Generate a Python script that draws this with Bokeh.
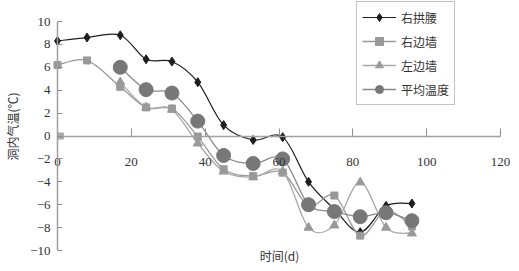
import math
from bokeh.plotting import figure
from bokeh.models import (FixedTicker, Label, Legend, LegendItem, ColumnDataSource)
from bokeh.embed import file_html
from bokeh.resources import INLINE

nan = float("nan")
days = [0, 8, 17, 24, 31, 38, 45, 53, 61, 68, 75, 82, 89, 96]
right_arch = [8.3, 8.6, 8.8, 6.7, 6.5, 4.7, 0.95, -0.35, -0.1, -4.0, -6.4, -8.4, -6.1, -5.9]
right_wall = [6.2, 6.6, 4.3, 2.5, 2.4, -0.05, -2.9, -3.5, -3.2, -6.1, -5.2, -8.7, -6.5, -7.9]
left_wall = [nan, nan, 4.7, 2.5, 2.3, -0.64, -3.1, -3.6, -3.1, -8.0, -7.8, -4.05, -8.0, -8.5]
average = [nan, nan, 6.0, 4.05, 3.75, 1.3, -1.7, -2.4, -2.0, -6.0, -6.6, -7.05, -6.7, -7.4]
extra_x = [0.8]
extra_y = [0.0]
names = ["右拱腰", "右边墙", "左边墙", "平均温度"]
x_ticks = [0, 20, 40, 60, 80, 100, 120]
y_ticks = [-10, -8, -6, -4, -2, 0, 2, 4, 6, 8, 10]
y_tick_labels = ["−10", "−8", "−6", "−4", "−2", "0", "2", "4", "6", "8", "10"]
x_title = "时间(d)"
y_title = "洞内气温(℃)"

serif = "Liberation Serif"
cjk = "Noto Sans CJK SC"

# frame covers the whole canvas; axes are pinned at x=0 / y=0
W, H = 519, 271
xpx = (500 - 57) / 120.0
ypx = (250 - 21) / 20.0
p = figure(width=W, height=H,
           x_range=(-57 / xpx, 120 + (W - 500) / xpx),
           y_range=(-10 - (H - 250) / ypx, 10 + 21 / ypx),
           output_backend="svg", toolbar_location=None,
           min_border_left=0, min_border_right=0, min_border_top=0, min_border_bottom=0)
p.background_fill_color = "white"
p.border_fill_color = "white"
p.outline_line_color = None
p.xgrid.visible = False
p.ygrid.visible = False

# axes
p.xaxis.fixed_location = 0
p.xaxis.bounds = (0, 120)
p.xaxis.ticker = FixedTicker(ticks=x_ticks)
p.xaxis.minor_tick_line_color = None
p.xaxis.major_tick_in = 8
p.xaxis.major_tick_out = 0
p.xaxis.major_label_standoff = 22
p.xaxis.axis_line_color = "#a0a0a0"
p.xaxis.axis_line_width = 1.5
p.xaxis.major_tick_line_color = "#909090"
p.xaxis.major_label_text_font = serif
p.xaxis.major_label_text_font_size = "13px"
p.xaxis.major_label_text_color = "#333333"

p.yaxis.fixed_location = 0
p.yaxis.bounds = (-10, 10)
p.yaxis.ticker = FixedTicker(ticks=y_ticks)
p.yaxis.major_label_overrides = {t: l for t, l in zip(y_ticks, y_tick_labels)}
p.yaxis.minor_tick_line_color = None
p.yaxis.major_tick_in = 5
p.yaxis.major_tick_out = 0
p.yaxis.major_label_standoff = 7
p.yaxis.axis_line_color = "#a0a0a0"
p.yaxis.axis_line_width = 1.5
p.yaxis.major_tick_line_color = "#909090"
p.yaxis.major_label_text_font = serif
p.yaxis.major_label_text_font_size = "13px"
p.yaxis.major_label_text_color = "#333333"


def bezier_source(xs, ys):
    pts = [(x, y) for x, y in zip(xs, ys) if not math.isnan(y)]
    n = len(pts)
    d = dict(x0=[], y0=[], x1=[], y1=[], cx0=[], cy0=[], cx1=[], cy1=[])
    for i in range(n - 1):
        pm = pts[i - 1] if i > 0 else pts[i]
        pa, pb = pts[i], pts[i + 1]
        pn = pts[i + 2] if i + 2 < n else pts[i + 1]
        d["x0"].append(pa[0]); d["y0"].append(pa[1])
        d["x1"].append(pb[0]); d["y1"].append(pb[1])
        d["cx0"].append(pa[0] + (pb[0] - pm[0]) / 6); d["cy0"].append(pa[1] + (pb[1] - pm[1]) / 6)
        d["cx1"].append(pb[0] - (pn[0] - pa[0]) / 6); d["cy1"].append(pb[1] - (pn[1] - pa[1]) / 6)
    return ColumnDataSource(d)


series = [
    (right_arch, "#1e1e1e", "#1e1e1e", "diamond", 9, 1.2),
    (right_wall, "#9a9a9a", "#999999", "square", 7, 1.3),
    (left_wall, "#a8a8a8", "#999999", "triangle", 9, 1.3),
    (average, "#8a8a8a", "#777777", "circle", 14, 1.3),
]

p.scatter(extra_x, extra_y, marker="square", size=6, color="#aaaaaa")

items = []
for (vals, lc, mc, marker, size, lw), name in zip(series, names):
    src = bezier_source(days, vals)
    p.bezier(x0="x0", y0="y0", x1="x1", y1="y1", cx0="cx0", cy0="cy0", cx1="cx1", cy1="cy1",
             source=src, line_color=lc, line_width=lw)
    sx = [d for d, v in zip(days, vals) if not math.isnan(v)]
    sy = [v for v in vals if not math.isnan(v)]
    sr = p.scatter(sx, sy, marker=marker, size=size, fill_color=mc, line_color=mc)
    lr = p.line([nan, nan], [nan, nan], line_color=lc, line_width=lw)
    items.append(LegendItem(label=name, renderers=[lr, sr]))

# legend box: left 356, top 5, bottom 105 (screen px, origin bottom-left of frame)
legend = Legend(items=items, location=(356, H - 105), orientation="vertical")
legend.label_text_font = cjk
legend.label_text_font_size = "12px"
legend.label_text_color = "#333333"
legend.glyph_width = 34
legend.glyph_height = 20
legend.label_height = 20
legend.spacing = 4
legend.padding = 5
legend.margin = 0
legend.label_standoff = 5
legend.border_line_color = "#888888"
legend.border_line_width = 1
legend.background_fill_color = "white"
legend.background_fill_alpha = 1
p.add_layout(legend, "center")

p.add_layout(Label(x=279, y=H - 255, x_units="screen", y_units="screen", text=x_title,
                   text_font=cjk, text_font_size="12px", text_color="#333333",
                   text_align="center", text_baseline="middle"))
p.add_layout(Label(x=12, y=H - 126, x_units="screen", y_units="screen", text=y_title, angle=math.pi / 2,
                   text_font=cjk, text_font_size="12px", text_color="#333333",
                   text_align="center", text_baseline="middle"))

open("out.html", "w").write(file_html(p, INLINE))
